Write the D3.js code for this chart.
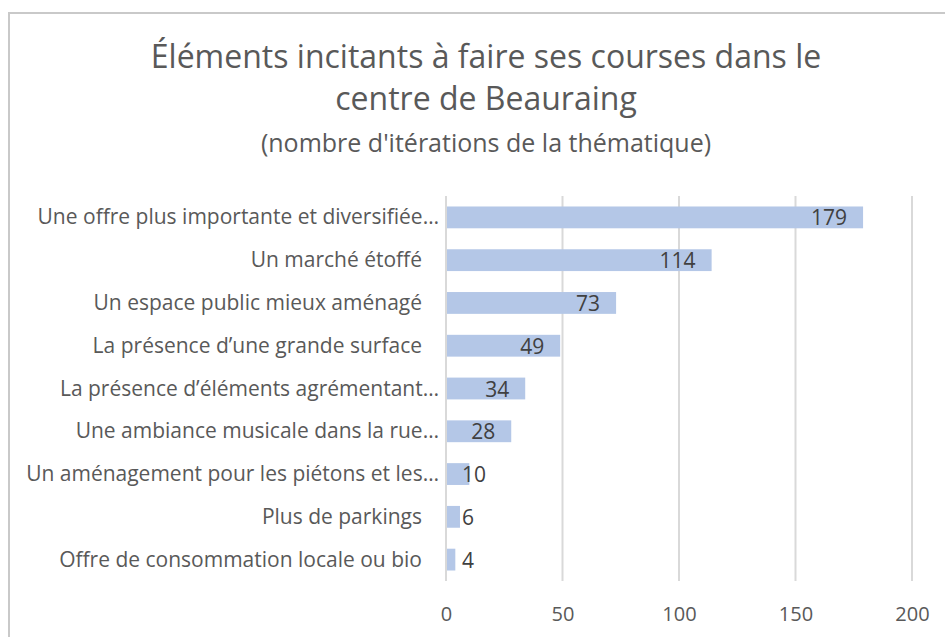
<!DOCTYPE html>
<html>
<head>
<meta charset="utf-8">
<style>
    body { margin: 0; background: #fff; }
    svg { display: block; }
</style>
</head>
<body>
<div id="chart"></div>
<script src="https://cdn.jsdelivr.net/npm/d3@7"></script>
<script>
    const titleLines = ["Éléments incitants à faire ses courses dans le", "centre de Beauraing"]
    const subtitle = "(nombre d'itérations de la thématique)"

    const categories = [
        "Une offre plus importante et diversifiée…",
        "Un marché étoffé",
        "Un espace public mieux aménagé",
        "La présence d’une grande surface",
        "La présence d’éléments agrémentant…",
        "Une ambiance musicale dans la rue…",
        "Un aménagement pour les piétons et les…",
        "Plus de parkings",
        "Offre de consommation locale ou bio"
    ]
    const values = [179, 114, 73, 49, 34, 28, 10, 6, 4]
    const xTicks = [0, 50, 100, 150, 200]

    const width = 945, height = 637
    const font = "'Open Sans', 'Liberation Sans', sans-serif"

    const svg = d3.select("#chart").append("svg")
        .attr("width", width)
        .attr("height", height)

    // chart frame (cropped on right and bottom)
    svg.append("path")
        .attr("d", "M9," + height + "V13H" + width)
        .attr("fill", "none")
        .attr("stroke", "#c9c9c9")
        .attr("stroke-width", 2)

    const x = d3.scaleLinear().domain([0, 200]).range([446, 912])
    const y = d3.scaleBand().domain(categories).range([196, 581])
        .paddingInner(0.49).paddingOuter(0.245)

    // title
    const title = svg.append("g").attr("fill", "#595959").attr("text-anchor", "middle")
        .style("font-family", font)
    title.selectAll("text.t")
        .data(titleLines)
        .enter().append("text")
        .attr("class", "t")
        .attr("x", 486)
        .attr("y", (d, i) => 68 + i * 42)
        .style("font-size", "32px")
        .text(d => d)
    title.append("text")
        .attr("x", 486)
        .attr("y", 152)
        .style("font-size", "25px")
        .text(subtitle)

    // gridlines
    svg.append("g")
        .selectAll("line")
        .data(xTicks)
        .enter().append("line")
        .attr("x1", d => x(d))
        .attr("x2", d => x(d))
        .attr("y1", 196)
        .attr("y2", 581)
        .attr("stroke", "#d9d9d9")
        .attr("stroke-width", 2)

    // x axis labels
    const xAxis = svg.append("g")
        .attr("transform", "translate(0,581)")
        .call(d3.axisBottom(x).tickValues(xTicks).tickSize(0).tickPadding(26))
    xAxis.select(".domain").remove()
    xAxis.selectAll("text")
        .attr("fill", "#595959")
        .style("font-family", font)
        .style("font-size", "20px")

    // bars
    svg.append("g")
        .selectAll("rect")
        .data(values)
        .enter().append("rect")
        .attr("x", x(0) + 1)
        .attr("y", (d, i) => y(categories[i]))
        .attr("width", d => x(d) - x(0) - 1)
        .attr("height", y.bandwidth())
        .attr("fill", "#b4c7e7")

    // category labels
    svg.append("g")
        .selectAll("text")
        .data(categories)
        .enter().append("text")
        .attr("x", d => d.endsWith("…") ? 439 : 422)
        .attr("y", d => y(d) + y.bandwidth() / 2 + 7)
        .attr("text-anchor", "end")
        .attr("fill", "#595959")
        .style("font-family", font)
        .style("font-size", "21px")
        .text(d => d)

    // value labels, inside end unless the bar is too short
    svg.append("g")
        .selectAll("text")
        .data(values)
        .enter().append("text")
        .attr("y", (d, i) => y(categories[i]) + y.bandwidth() / 2 + 8)
        .attr("fill", "#404040")
        .style("font-family", font)
        .style("font-size", "21px")
        .text(d => d)
        .each(function (d) {
            const w = this.getComputedTextLength()
            const left = Math.max(x(0) + 16, x(d) - 16 - w)
            d3.select(this).attr("x", left)
        })
</script>
</body>
</html>
